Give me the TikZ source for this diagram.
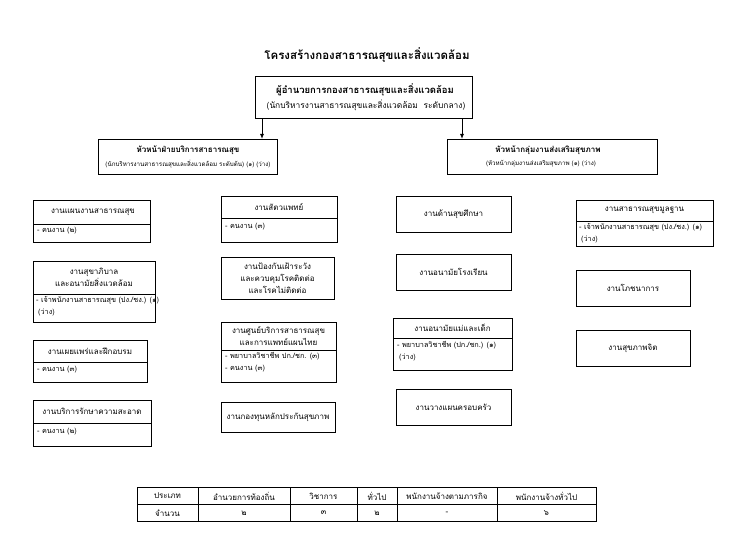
\documentclass[tikz,border=0pt]{standalone}
\usepackage{fontspec}
\setmainfont[Script=Thai]{Loma}
\usetikzlibrary{arrows.meta}
\newcommand\obox[5]{\node[bx, minimum width={(#4)-(#2)}, minimum height={(#5)-(#3)}] (#1) at (#2,#3) {};}
\begin{document}
\begin{tikzpicture}[x=1pt,y=-1pt,
  bx/.style={draw, line width=0.9pt, inner sep=0pt, anchor=north west},
  dv/.style={line width=0.9pt},
  hd/.style={font=\fontsize{8}{12}\selectfont, align=center, inner sep=0pt},
  bd/.style={font=\fontsize{7.3}{12.5}\selectfont, align=left, anchor=north west, inner sep=0pt},
  hb/.style={font=\bfseries\fontsize{8}{10}\selectfont, inner sep=0pt},
  sm/.style={font=\fontsize{6.2}{7}\selectfont, inner sep=0pt},
  tb/.style={font=\fontsize{8}{10}\selectfont, inner sep=0pt},
  arr/.style={-{Latex[length=5pt,width=4pt]}, line width=0.9pt}]
\useasboundingbox[fill=white] (0,0) rectangle (741,556);

% title
\node[font=\bfseries\fontsize{11.5}{14}\selectfont] (title) at (367,55) {โครงสร้างกองสาธารณสุขและสิ่งแวดล้อม};

% top box
\obox{top}{255}{76}{472}{118}
\node[font=\bfseries\fontsize{9.5}{11}\selectfont, inner sep=0pt] (top1) at (365,90) {ผู้อำนวยการกองสาธารณสุขและสิ่งแวดล้อม};
\node[font=\fontsize{8.4}{10}\selectfont, inner sep=0pt] (top2) at (366,105) {(นักบริหารงานสาธารณสุขและสิ่งแวดล้อม\ \ ระดับกลาง)};

% head boxes
\obox{lh}{98}{139}{277}{174}
\node[hb] (lh1) at (188,150) {หัวหน้าฝ่ายบริการสาธารณสุข};
\node[sm] (lh2) at (188,164) {(นักบริหารงานสาธารณสุขและสิ่งแวดล้อม ระดับต้น) (๑) (ว่าง)};
\obox{rh}{447}{139}{657}{174}
\node[hb] (rh1) at (548,150) {หัวหน้ากลุ่มงานส่งเสริมสุขภาพ};
\node[sm] (rh2) at (541,164) {(หัวหน้ากลุ่มงานส่งเสริมสุขภาพ (๑) (ว่าง)};

\coordinate (ax1) at (262,0);
\coordinate (ax2) at (462,0);
\draw[arr] (top.south -| ax1) -- (lh.north -| ax1);
\draw[arr] (top.south -| ax2) -- (rh.north -| ax2);

% column 1
\obox{a1}{33}{200}{150}{242}
\draw[dv] (a1.west |- 0,224) -- (a1.east |- 0,224);
\node[hd] (a1h) at (93,212) {งานแผนงานสาธารณสุข};
\node[bd] (a1b) at (37,227) {- คนงาน (๒)};

\obox{a2}{33}{261}{155}{322}
\draw[dv] (a2.west |- 0,294) -- (a2.east |- 0,294);
\node[hd] (a2h) at (94,277.5) {งานสุขาภิบาล\\และอนามัยสิ่งแวดล้อม};
\node[bd] (a2b) at (36,296) {- เจ้าพนักงานสาธารณสุข (ปง./ชง.) (๑)\\\hspace{2pt}(ว่าง)};

\obox{a3}{33}{340}{147}{382}
\draw[dv] (a3.west |- 0,362) -- (a3.east |- 0,362);
\node[hd] (a3h) at (90,351) {งานเผยแพร่และฝึกอบรม};
\node[bd] (a3b) at (37,366) {- คนงาน (๓)};

\obox{a4}{33}{400}{151}{446}
\draw[dv] (a4.west |- 0,423) -- (a4.east |- 0,423);
\node[hd] (a4h) at (92,411.5) {งานบริการรักษาความสะอาด};
\node[bd] (a4b) at (37,428) {- คนงาน (๒)};

% column 2
\obox{b1}{221}{196}{337}{242}
\draw[dv] (b1.west |- 0,218) -- (b1.east |- 0,218);
\node[hd] (b1h) at (279,207) {งานสัตวแพทย์};
\node[bd] (b1b) at (225,223) {- คนงาน (๓)};

\obox{b2}{221}{257}{334}{299}
\node[hd] (b2h) at (277.5,278) {งานป้องกันเฝ้าระวัง\\และควบคุมโรคติดต่อ\\และโรคไม่ติดต่อ};

\obox{b3}{221}{322}{336}{382}
\draw[dv] (b3.west |- 0,350) -- (b3.east |- 0,350);
\node[hd] (b3h) at (278.5,336) {งานศูนย์บริการสาธารณสุข\\และการแพทย์แผนไทย};
\node[bd] (b3b) at (225,352) {- พยาบาลวิชาชีพ ปก./ชก. (๓)\\- คนงาน (๓)};

\obox{b4}{221}{402}{335}{432}
\node[hd] (b4h) at (278,417) {งานกองทุนหลักประกันสุขภาพ};

% column 3
\obox{c1}{396}{196}{511}{232}
\node[hd] (c1h) at (453.5,214) {งานด้านสุขศึกษา};
\obox{c2}{396}{254}{511}{290}
\node[hd] (c2h) at (453.5,272) {งานอนามัยโรงเรียน};
\obox{c3}{393}{318}{512}{370}
\draw[dv] (c3.west |- 0,338) -- (c3.east |- 0,338);
\node[hd] (c3h) at (452.5,328) {งานอนามัยแม่และเด็ก};
\node[bd] (c3b) at (397,341) {- พยาบาลวิชาชีพ (ปก./ชก.) (๑)\\\hspace{2pt}(ว่าง)};
\obox{c4}{396}{389}{511}{425}
\node[hd] (c4h) at (453.5,407) {งานวางแผนครอบครัว};

% column 4
\obox{d1}{576}{200}{713}{246}
\draw[dv] (d1.west |- 0,221) -- (d1.east |- 0,221);
\node[hd] (d1h) at (644.5,210.5) {งานสาธารณสุขมูลฐาน};
\node[bd] (d1b) at (579,223) {- เจ้าพนักงานสาธารณสุข (ปง./ชง.) (๑)\\\hspace{2pt}(ว่าง)};
\obox{d2}{576}{270}{690}{306}
\node[hd] (d2h) at (633,288) {งานโภชนาการ};
\obox{d3}{576}{330}{690}{366}
\node[hd] (d3h) at (633,348) {งานสุขภาพจิต};

% table
\obox{tbl}{137}{487}{596}{521}
\draw[line width=0.7pt] (137,504) -- (596,504);
\foreach \xx in {198,290,357,397,497}{\draw[line width=0.7pt] (\xx,487) -- (\xx,521);}
\node[tb] (t11) at (167.5,496) {ประเภท};
\node[tb] (t12) at (244,496) {อำนวยการท้องถิ่น};
\node[tb] (t13) at (323.5,496) {วิชาการ};
\node[tb] (t14) at (377,496) {ทั่วไป};
\node[tb] (t15) at (447,496) {พนักงานจ้างตามภารกิจ};
\node[tb] (t16) at (546.5,496) {พนักงานจ้างทั่วไป};
\node[tb] (t21) at (167.5,513) {จำนวน};
\node[tb] (t22) at (244,513) {๒};
\node[tb] (t23) at (323.5,513) {๓};
\node[tb] (t24) at (377,513) {๒};
\node[tb] (t25) at (447,513) {-};
\node[tb] (t26) at (546.5,513) {๖};
\end{tikzpicture}
\end{document}
